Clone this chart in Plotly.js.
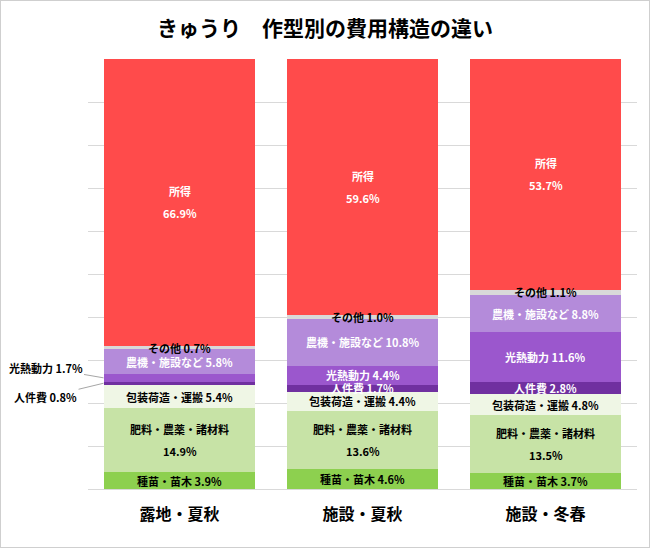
<!DOCTYPE html>
<html><head><meta charset="utf-8">
<script src="https://cdn.plot.ly/plotly-3.0.1.min.js"></script>
<style>
html,body{margin:0;padding:0;background:#fff;}
#chart{width:648px;height:546px;border:1px solid #cfcfcf;}
</style></head>
<body><div id="chart"></div>
<script>
// ---- data ----
const categories = ['露地・夏秋', '施設・夏秋', '施設・冬春'];
const seriesNames = ['種苗・苗木', '肥料・農薬・諸材料', '包装荷造・運搬', '人件費', '光熱動力', '農機・施設など', 'その他', '所得'];
const seeds      = [3.9, 4.6, 3.7];
const fertilizer = [14.9, 13.6, 13.5];
const packing    = [5.4, 4.4, 4.8];
const labor      = [0.8, 1.7, 2.8];
const energy     = [1.7, 4.4, 11.6];
const machinery  = [5.8, 10.8, 8.8];
const other      = [0.7, 1.0, 1.1];
const income     = [66.9, 59.6, 53.7];
const seriesValues = [seeds, fertilizer, packing, labor, energy, machinery, other, income];

// ---- styles ----
const barColors  = ['#8dd04f', '#c7e3a6', '#eff6e5', '#7030a0', '#9b57cd', '#b48bda', '#d9d9d9', '#ff4b4b'];
const textColors = ['#000', '#000', '#000', '#fff', '#fff', '#fff', '#000', '#fff'];
const twoLine    = [false, true, false, false, false, false, false, true];
const FONT = '"Noto Sans CJK JP", "Noto Sans", sans-serif';
const halfBar = 0.415;

const traces = seriesNames.map((name, s) => ({
  type: 'bar', name: name, x: categories, y: seriesValues[s],
  marker: {color: barColors[s], line: {width: 0}},
  hoverinfo: 'skip', showlegend: false
}));

const annotations = [];
categories.forEach((cat, i) => {
  let cum = 0;
  seriesValues.forEach((vals, s) => {
    const v = vals[i];
    const mid = cum + v / 2;
    cum += v;
    const label = seriesNames[s] + ' ' + v.toFixed(1) + '%';
    const font = {family: FONT, size: 11, color: textColors[s], weight: 'bold'};
    if (i === 0 && (s === 3 || s === 4)) {
      annotations.push({
        x: i - halfBar, y: mid, xref: 'x', yref: 'y',
        text: label, showarrow: true, arrowhead: 0, arrowwidth: 1, arrowcolor: '#a6a6a6',
        ax: -58, ay: s === 4 ? -10 : 14, standoff: 0,
        font: {family: FONT, size: 11, color: '#000', weight: 'bold'}
      });
    } else if (twoLine[s]) {
      annotations.push({x: cat, y: mid, xref: 'x', yref: 'y', text: seriesNames[s], showarrow: false, yshift: 11, font: font});
      annotations.push({x: cat, y: mid, xref: 'x', yref: 'y', text: v.toFixed(1) + '%', showarrow: false, yshift: -11, font: font});
    } else {
      annotations.push({x: cat, y: mid, xref: 'x', yref: 'y', text: label, showarrow: false, font: font});
    }
  });
});

const layout = {
  width: 648, height: 546,
  margin: {l: 87, r: 12, t: 58, b: 58},
  paper_bgcolor: '#fff', plot_bgcolor: '#fff',
  barmode: 'stack', bargap: 0.17,
  title: {text: 'きゅうり　作型別の費用構造の違い', x: 0.5, xanchor: 'center', y: 0.95, yanchor: 'middle',
          yref: 'container', font: {family: FONT, size: 21, color: '#000', weight: 'bold'}},
  xaxis: {type: 'category', range: [-0.5, 2.5], autorange: false, showline: false, ticks: '', showgrid: false,
          tickfont: {family: FONT, size: 16, color: '#000', weight: 'bold'}, ticklabelstandoff: 14},
  yaxis: {range: [0, 100], dtick: 10, showticklabels: false, showgrid: true, gridcolor: '#d9d9d9',
          gridwidth: 1, zeroline: true, zerolinecolor: '#d9d9d9', showline: false, fixedrange: true},
  annotations: annotations
};

Plotly.newPlot('chart', traces, layout, {displayModeBar: false, staticPlot: true});
</script></body></html>
